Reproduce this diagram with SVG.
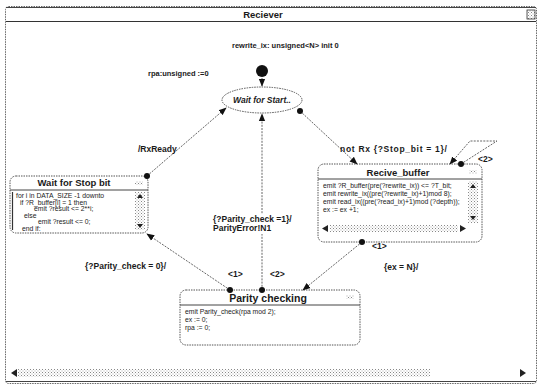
<svg xmlns="http://www.w3.org/2000/svg" width="541" height="387" viewBox="0 0 541 387">
<defs>
<style>
.t{font-family:"Liberation Sans",Arial,sans-serif;fill:#1a1a1a}
.lbl{font-size:8.5px;font-weight:bold}
.sm{font-size:7.5px;font-weight:bold}
.ttl{font-size:9.5px;font-weight:bold}
.code{font-size:6.8px}
.box{fill:#fff;stroke:#555;stroke-width:1;stroke-dasharray:1.5 1}
.bar{stroke:#444;stroke-width:1}
.edge{fill:none;stroke:#555;stroke-width:0.9;stroke-dasharray:2 1.2}
.dot{fill:#111}
.scr{fill:url(#stip)}
.arr{fill:#222}
</style>
<marker id="ah" viewBox="0 0 10 10" refX="9" refY="5" markerWidth="8" markerHeight="8" markerUnits="userSpaceOnUse" orient="auto"><path d="M0,1 L10,5 L0,9 z" fill="#111"/></marker>
<pattern id="stip" width="3" height="3" patternUnits="userSpaceOnUse"><rect width="1" height="1" fill="#888"/><rect x="1.5" y="1.5" width="1" height="1" fill="#aaa"/></pattern>
<clipPath id="cL"><rect x="12" y="190" width="122" height="41"/></clipPath>
<clipPath id="cR"><rect x="320" y="181" width="146" height="41"/></clipPath>
</defs>

<g id="window">
<rect x="5.5" y="6.5" width="531" height="377" rx="3" fill="#fff" stroke="#666" stroke-dasharray="1.5 1"/>
<line x1="6" y1="7.5" x2="536" y2="7.5" stroke="#444"/>
<line x1="6" y1="21.5" x2="536" y2="21.5" stroke="#333"/>
<text x="263" y="18" text-anchor="middle" class="t ttl">Reciever</text>
<rect x="527" y="10" width="8" height="9" class="scr" stroke="#333" stroke-width="0.8"/>
<rect x="18" y="369" width="412" height="8" class="scr"/>
<path d="M11,373 L17,369 L17,377 z" class="arr"/>
<path d="M526,373 L520,369 L520,377 z" class="arr"/>
<line x1="6" y1="381.5" x2="536" y2="381.5" stroke="#444"/>
</g>

<g id="variables">
<text x="232" y="48" class="t sm">rewrite_ix: unsigned&lt;N&gt; init 0</text>
</g>

<g id="initial">
<circle cx="262" cy="71" r="6" class="dot"/>
<text x="148" y="76" class="t sm">rpa:unsigned :=0</text>
</g>

<g id="wait-start">
<ellipse cx="262" cy="100" rx="40" ry="13" class="box"/>
<text x="262" y="103" text-anchor="middle" class="t lbl" font-style="italic">Wait for Start..</text>
</g>

<g id="wait-stop">
<rect x="10" y="176" width="138" height="57" rx="6" class="box"/>
<line x1="10" y1="190" x2="148" y2="190" class="bar"/>
<text x="74" y="186" text-anchor="middle" class="t ttl">Wait for Stop bit</text>
<rect x="135" y="181" width="8" height="4" class="scr"/>
<rect x="135" y="192" width="10" height="38" class="scr"/>
<path d="M137,198 L140,194 L143,198 z" class="arr"/>
<path d="M137,224 L140,228 L143,224 z" class="arr"/>
<line x1="12.5" y1="192" x2="12.5" y2="230" stroke="#333" stroke-width="1.2"/>
<g clip-path="url(#cL)" class="t code">
<text x="16" y="198">for i in DATA_SIZE -1 downto</text>
<text x="20" y="204.5">if ?R_buffer[i] = 1 then</text>
<text x="34" y="211">emit ?result &lt;= 2**i;</text>
<text x="24" y="217.5">else</text>
<text x="38" y="224">emit ?result &lt;= 0;</text>
<text x="22" y="230.5">end if;</text>
<text x="16" y="237">end for;</text>
</g>
</g>

<g id="recive-buffer">
<rect x="318" y="164" width="164" height="78" rx="6" class="box"/>
<line x1="318" y1="179" x2="482" y2="179" class="bar"/>
<text x="398" y="176" text-anchor="middle" class="t ttl">Recive_buffer</text>
<rect x="469" y="170" width="8" height="4" class="scr"/>
<rect x="468" y="181" width="10" height="42" class="scr"/>
<path d="M470,188 L473,184 L476,188 z" class="arr"/>
<path d="M470,216 L473,220 L476,216 z" class="arr"/>
<rect x="330" y="225" width="128" height="7" class="scr"/>
<path d="M322,228.5 L328,225 L328,232 z" class="arr"/>
<path d="M466,228.5 L460,225 L460,232 z" class="arr"/>
<g clip-path="url(#cR)" class="t code">
<text x="323" y="188">emit ?R_buffer(pre(?rewrite_ix)) &lt;= ?T_bit;</text>
<text x="323" y="196">emit rewrite_ix((pre(?rewrite_ix)+1)mod 8);</text>
<text x="323" y="204">emit read_ix((pre(?read_ix)+1)mod (?depth));</text>
<text x="323" y="212">ex := ex +1;</text>
</g>
</g>

<g id="parity-checking">
<rect x="180" y="290" width="180" height="55" rx="6" class="box"/>
<line x1="180" y1="305" x2="360" y2="305" class="bar"/>
<text x="268" y="301.5" text-anchor="middle" class="t" font-size="10.5" font-weight="bold">Parity checking</text>
<rect x="346" y="295" width="8" height="4" class="scr"/>
<g class="t code">
<text x="185" y="314">emit Parity_check(rpa mod 2);</text>
<text x="185" y="322">ex := 0;</text>
<text x="185" y="330">rpa := 0;</text>
</g>
</g>

<g id="connectors">
<path d="M262,78 L262,86" class="edge" marker-end="url(#ah)"/>
<path d="M147,176 L226,108" class="edge" marker-end="url(#ah)"/>
<circle cx="147" cy="176" r="3" class="dot"/>
<text x="138" y="152" class="t lbl">/RxReady</text>
<path d="M300,111 L357,164" class="edge" marker-end="url(#ah)"/>
<circle cx="300" cy="111" r="3" class="dot"/>
<text x="340" y="152" class="t lbl" letter-spacing="0.7">not Rx {?Stop_bit = 1}/</text>
<path d="M262,290 L262,114" class="edge" marker-end="url(#ah)"/>
<circle cx="262" cy="290" r="3" class="dot"/>
<rect x="212" y="214" width="84" height="20" fill="#fff"/>
<text x="213" y="222" class="t lbl">{?Parity_check =1}/</text>
<text x="213" y="231" class="t lbl">ParityError!N1</text>
<text x="270" y="277" class="t lbl">&lt;2&gt;</text>
<path d="M230,290 L147,234" class="edge" marker-end="url(#ah)"/>
<circle cx="230" cy="290" r="3" class="dot"/>
<text x="85" y="269" class="t lbl">{?Parity_check = 0}/</text>
<text x="228" y="277" class="t lbl">&lt;1&gt;</text>
<path d="M362,242 L303,290" class="edge" marker-end="url(#ah)"/>
<circle cx="362" cy="242" r="3" class="dot"/>
<text x="372" y="249" class="t lbl">&lt;1&gt;</text>
<text x="384" y="270" class="t lbl">{ex = N}/</text>
<path d="M461,164 L497,141 L470,141 L450,164" class="edge" marker-end="url(#ah)"/>
<circle cx="461" cy="164" r="3" class="dot"/>
<text x="478" y="162" class="t lbl">&lt;2&gt;</text>
</g>
</svg>
